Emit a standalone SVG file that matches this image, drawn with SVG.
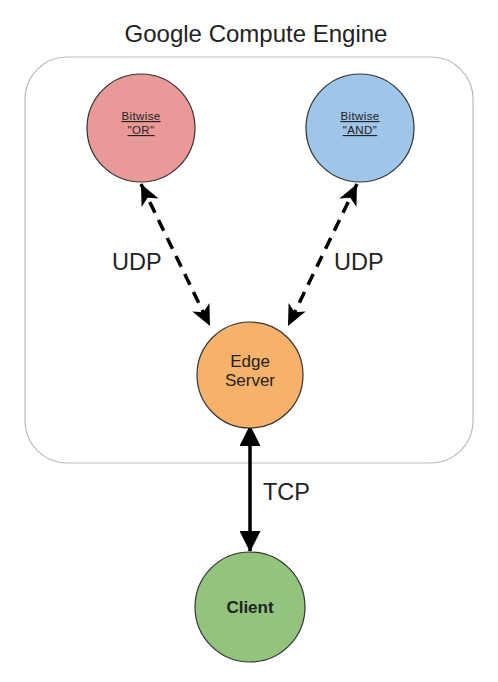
<svg xmlns="http://www.w3.org/2000/svg" width="498" height="682" viewBox="0 0 498 682">
<style>
text{font-family:"Liberation Sans",Arial,sans-serif;fill:#222}
.node{stroke:#333;stroke-width:1.2}
.lbl{font-size:23.5px}
.small{font-size:11.5px;letter-spacing:0.4px;text-decoration:underline;text-anchor:middle}
.mid{font-size:17px;text-anchor:middle}
.dash{stroke:#000;stroke-width:3.5;stroke-dasharray:12 8;fill:none}
.solid{stroke:#000;stroke-width:3.5;fill:none}
</style>
<defs>
<marker id="open" viewBox="0 0 12 12" refX="11" refY="6" markerWidth="6.5" markerHeight="6.5" orient="auto-start-reverse" markerUnits="strokeWidth">
<path d="M0,1 L11,6 L0,11 L3,6 Z" fill="#000"/>
</marker>
<marker id="tri" viewBox="0 0 10 10" refX="9.5" refY="5" markerWidth="6.5" markerHeight="6" orient="auto-start-reverse" markerUnits="strokeWidth">
<path d="M0,0 L10,5 L0,10 Z" fill="#000"/>
</marker>
</defs>
<text x="256" y="42" font-size="24" text-anchor="middle">Google Compute Engine</text>
<g id="container">
<rect x="25" y="57" width="448" height="406" rx="42" ry="42" fill="none" stroke="#bbb" stroke-width="1.2"/>
</g>
<g id="connectors">
<line class="dash" x1="141" y1="184" x2="210" y2="326" marker-start="url(#open)" marker-end="url(#open)"/>
<line class="dash" x1="357" y1="184" x2="288" y2="326" marker-start="url(#open)" marker-end="url(#open)"/>
<line class="solid" x1="250" y1="426" x2="250" y2="551" marker-start="url(#tri)" marker-end="url(#tri)"/>
<text class="lbl" x="112" y="270">UDP</text>
<text class="lbl" x="334" y="270">UDP</text>
<text class="lbl" x="263" y="500">TCP</text>
</g>
<g id="bitwise-or">
<circle class="node" cx="141" cy="128" r="54" fill="#ea9999"/>
<text class="small" x="141" y="120">Bitwise</text>
<text class="small" x="141" y="134">"OR"</text>
</g>
<g id="bitwise-and">
<circle class="node" cx="360" cy="128" r="54" fill="#9fc5e8"/>
<text class="small" x="360" y="120">Bitwise</text>
<text class="small" x="360" y="134">"AND"</text>
</g>
<g id="edge-server">
<circle class="node" cx="250" cy="375" r="53" fill="#f6b26b"/>
<text class="mid" x="250" y="367">Edge</text>
<text class="mid" x="250" y="386">Server</text>
</g>
<g id="client">
<circle class="node" cx="250" cy="607" r="55" fill="#93c47d"/>
<text class="mid" x="250" y="613" font-weight="bold">Client</text>
</g>
</svg>
